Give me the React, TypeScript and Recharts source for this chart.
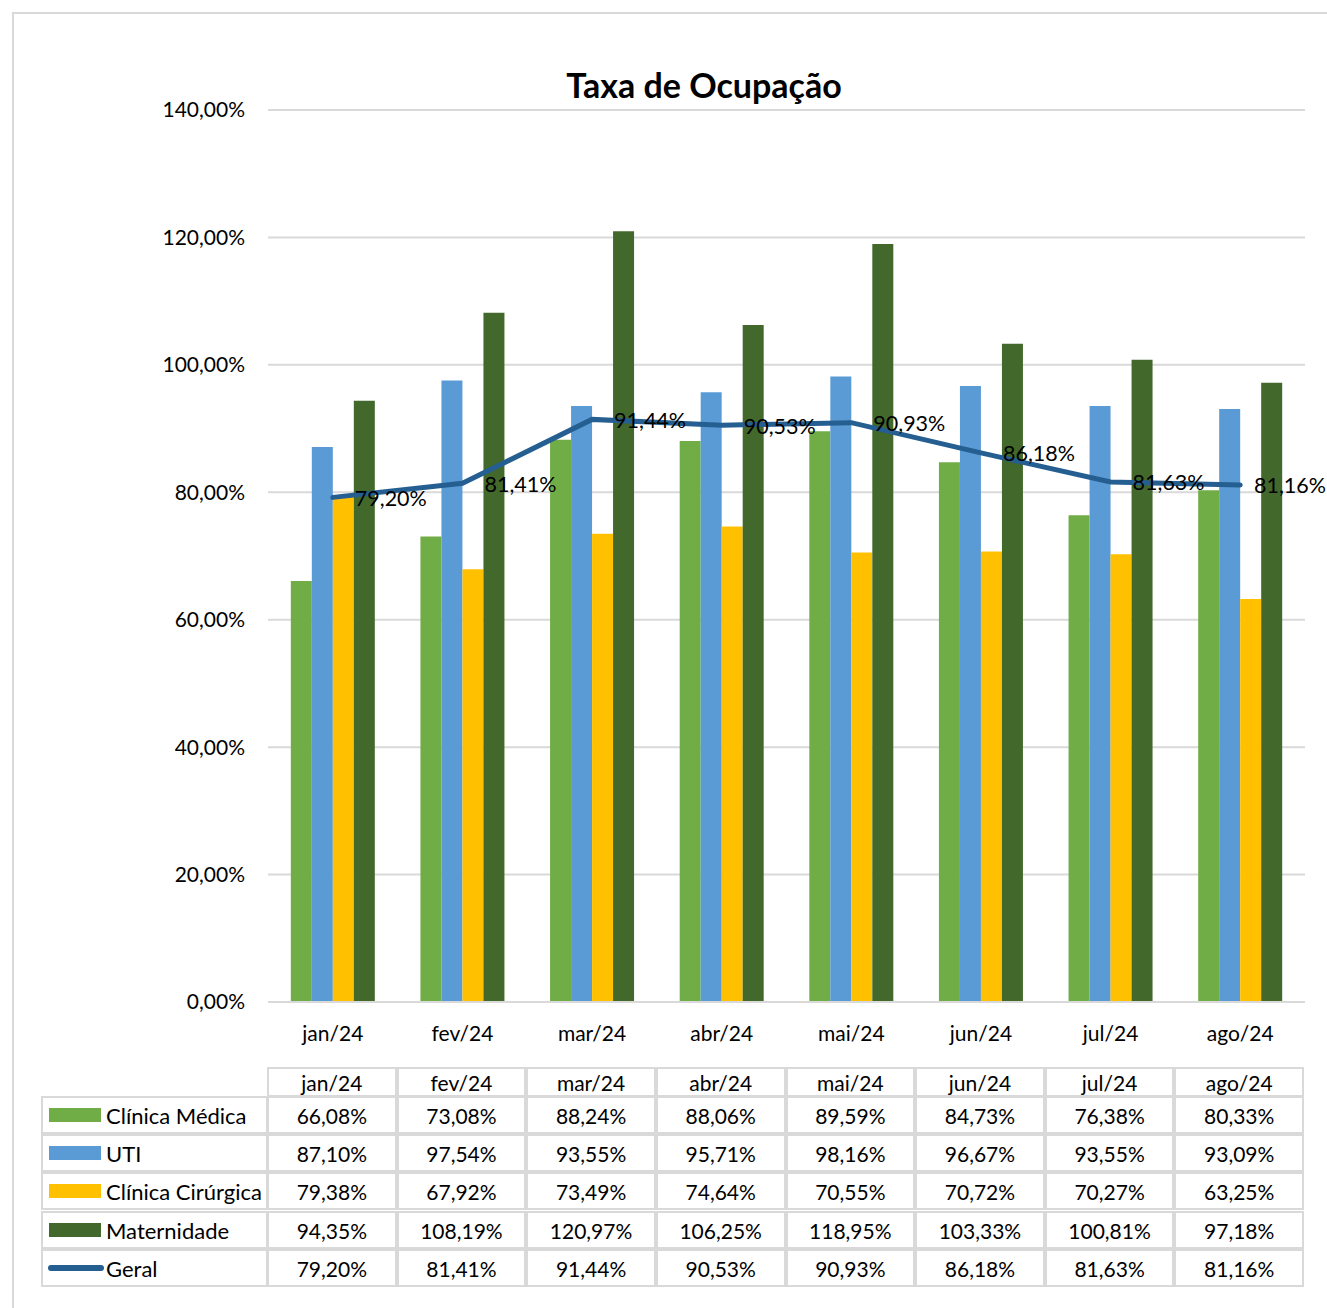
import React from "react";
import {
  ComposedChart,
  Bar,
  Line,
  XAxis,
  YAxis,
  CartesianGrid,
  LabelList,
} from "recharts";

const months = ["jan/24", "fev/24", "mar/24", "abr/24", "mai/24", "jun/24", "jul/24", "ago/24"];
const clinicaMedica = [66.08, 73.08, 88.24, 88.06, 89.59, 84.73, 76.38, 80.33];
const uti = [87.1, 97.54, 93.55, 95.71, 98.16, 96.67, 93.55, 93.09];
const clinicaCirurgica = [79.38, 67.92, 73.49, 74.64, 70.55, 70.72, 70.27, 63.25];
const maternidade = [94.35, 108.19, 120.97, 106.25, 118.95, 103.33, 100.81, 97.18];
const geral = [79.2, 81.41, 91.44, 90.53, 90.93, 86.18, 81.63, 81.16];
const yTicks = [0, 20, 40, 60, 80, 100, 120, 140];

const seriesDefs = [
  { key: "cm", name: "Clínica Médica", color: "#70ad47", values: clinicaMedica, type: "bar" },
  { key: "uti", name: "UTI", color: "#5b9bd5", values: uti, type: "bar" },
  { key: "cc", name: "Clínica Cirúrgica", color: "#ffc000", values: clinicaCirurgica, type: "bar" },
  { key: "mat", name: "Maternidade", color: "#43682b", values: maternidade, type: "bar" },
  { key: "geral", name: "Geral", color: "#255e91", values: geral, type: "line" },
];

const data = months.map((m, i) => ({
  month: m,
  cm: clinicaMedica[i],
  uti: uti[i],
  cc: clinicaCirurgica[i],
  mat: maternidade[i],
  geral: geral[i],
}));

const fmt = (v: number) => v.toFixed(2).replace(".", ",") + "%";
const FONT = "Lato, 'Open Sans', sans-serif";

const GeralLabel = (props: any) => {
  const { x, y, value } = props;
  let lx = x + 22;
  if (lx + 72 > 1326) lx = 1326 - 72;
  return (
    <text x={lx} y={y + 3} dominantBaseline="middle" fontSize={21.5} fill="#000" fontFamily={FONT}>
      {fmt(value)}
    </text>
  );
};

const PLOT_L = 268;
const PLOT_R = 1305;
const COL_W = (PLOT_R - PLOT_L) / months.length;
const BORDER = "#d9d9d9";

export default function App() {
  const rowTops = [1097, 1135, 1173, 1212, 1250];
  const rowH = 38;
  const cells: React.ReactNode[] = [];
  months.forEach((m, i) => {
    cells.push(
      <div
        key={"h" + i}
        style={{
          position: "absolute",
          left: PLOT_L + i * COL_W,
          top: 1067,
          width: COL_W,
          height: 30,
          boxSizing: "border-box",
          border: `2px solid ${BORDER}`,
          marginLeft: -1,
          display: "flex",
          alignItems: "center",
          justifyContent: "center",
          fontSize: 21,
          color: "#000",
        }}
      >
        {m}
      </div>
    );
  });
  seriesDefs.forEach((s, r) => {
    cells.push(
      <div
        key={"l" + r}
        style={{
          position: "absolute",
          left: 41,
          top: rowTops[r],
          width: PLOT_L - 41,
          height: rowH,
          boxSizing: "border-box",
          border: `2px solid ${BORDER}`,
          marginTop: -1,
          display: "flex",
          alignItems: "center",
          fontSize: 22,
          color: "#000",
          whiteSpace: "nowrap",
        }}
      >
        {s.type === "bar" ? (
          <div style={{ width: 52, height: 14, background: s.color, marginLeft: 6, marginRight: 5, flexShrink: 0 }} />
        ) : (
          <div style={{ width: 56, height: 6, background: s.color, borderRadius: 3, marginLeft: 5, marginRight: 2, flexShrink: 0 }} />
        )}
        <span>{s.name}</span>
      </div>
    );
    s.values.forEach((v, i) => {
      cells.push(
        <div
          key={"c" + r + "_" + i}
          style={{
            position: "absolute",
            left: PLOT_L + i * COL_W,
            top: rowTops[r],
            width: COL_W,
            height: rowH,
            boxSizing: "border-box",
            border: `2px solid ${BORDER}`,
            marginLeft: -1,
            marginTop: -1,
            display: "flex",
            alignItems: "center",
            justifyContent: "center",
            fontSize: 21,
            color: "#000",
          }}
        >
          {fmt(v)}
        </div>
      );
    });
  });

  return (
    <div
      style={{
        position: "absolute",
        left: 0,
        top: 0,
        width: 1327,
        height: 1308,
        overflow: "hidden",
        background: "#fff",
        fontFamily: FONT,
      }}
    >
      <div
        style={{
          position: "absolute",
          left: 12,
          top: 12,
          width: 1400,
          height: 1400,
          borderLeft: `2px solid ${BORDER}`,
          borderTop: `2px solid ${BORDER}`,
        }}
      />
      <div
        style={{
          position: "absolute",
          left: 0,
          top: 64,
          width: 1408,
          textAlign: "center",
          fontSize: 34,
          fontWeight: 700,
          color: "#000",
        }}
      >
        Taxa de Ocupação
      </div>
      <div style={{ position: "absolute", left: 0, top: 0 }}>
        <ComposedChart
          width={1327}
          height={1065}
          data={data}
          margin={{ top: 110, right: 22, bottom: 0, left: 0 }}
          barGap={0}
          barCategoryGap="17.6%"
        >
          <CartesianGrid vertical={false} stroke={BORDER} strokeWidth={2} />
          <XAxis
            dataKey="month"
            height={63}
            tickSize={0}
            tickMargin={24}
            axisLine={{ stroke: BORDER, strokeWidth: 2 }}
            tick={{ fontSize: 21, fill: "#000", fontFamily: FONT }}
          />
          <YAxis
            width={PLOT_L}
            domain={[0, 140]}
            ticks={yTicks}
            tickSize={0}
            tickMargin={23}
            axisLine={false}
            tickFormatter={(v: number) => fmt(v)}
            tick={{ fontSize: 21, fill: "#000", fontFamily: FONT }}
          />
          <Bar dataKey="cm" fill="#70ad47" isAnimationActive={false} />
          <Bar dataKey="uti" fill="#5b9bd5" isAnimationActive={false} />
          <Bar dataKey="cc" fill="#ffc000" isAnimationActive={false} />
          <Bar dataKey="mat" fill="#43682b" isAnimationActive={false} />
          <Line
            dataKey="geral"
            stroke="#255e91"
            strokeWidth={5}
            dot={false}
            strokeLinecap="round"
            isAnimationActive={false}
          >
            <LabelList dataKey="geral" content={<GeralLabel />} />
          </Line>
        </ComposedChart>
      </div>
      {cells}
    </div>
  );
}
